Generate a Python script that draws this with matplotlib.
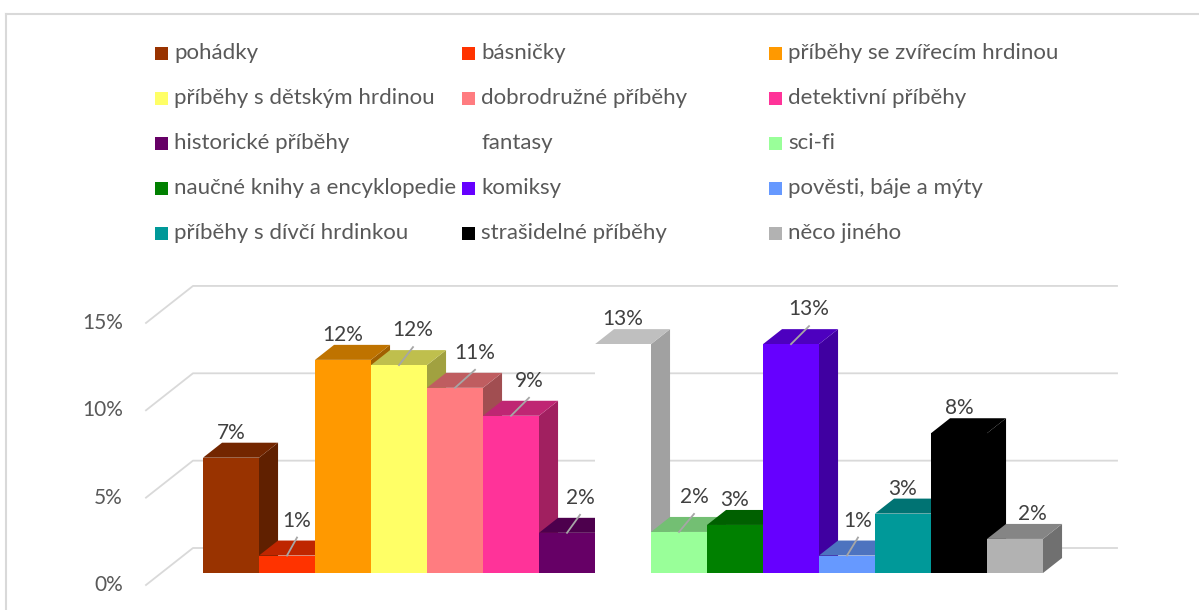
import matplotlib.pyplot as plt
from matplotlib.colors import to_rgb
from matplotlib.lines import Line2D
from matplotlib.patches import Polygon, Rectangle

plt.rcParams['font.family'] = ['Lato', 'DejaVu Sans']

categories = ['pohádky', 'básničky', 'příběhy se zvířecím hrdinou',
              'příběhy s dětským hrdinou', 'dobrodružné příběhy', 'detektivní příběhy',
              'historické příběhy', 'fantasy', 'sci-fi',
              'naučné knihy a encyklopedie', 'komiksy', 'pověsti, báje a mýty',
              'příběhy s dívčí hrdinkou', 'strašidelné příběhy', 'něco jiného']
values = [6.6, 1.0, 12.2, 11.9, 10.6, 9.0, 2.3, 13.1, 2.35, 2.75, 13.1, 1.0, 3.4, 8.0, 1.95]
colors = ['#993300', '#FF3300', '#FF9900', '#FFFF66', '#FF7C80', '#FF3399', '#660066',
          '#FFFFFF', '#99FF99', '#008000', '#6600FF', '#6699FF', '#009999', '#000000',
          '#B2B2B2']
yticks = [0, 5, 10, 15]

# label placement (style): leader line or not, x nudge in px
leader = [False, True, False, True, True, True, True, False, True, False, True, True,
          False, False, False]
label_dx = [0, 10, 0, 14, 20, 18, 13, 0, 15, 0, 18, 11, 0, 0, 17]

W, H = 1199, 610
CAT_PX, PCT_PX = 56.0, 17.47   # pixels per category / per percent
X0, Y0 = 203, 573              # first bar front-left, bar base (pixels)
SLOPE = 1.27                   # oblique depth direction dx/dy
BAR_D, WALL_D, FRONT_D = 15, 25, -12

fig = plt.figure(figsize=(W / 100, H / 100), dpi=100)
ax = fig.add_axes([0, 0, 1, 1])
ax.set_xlim(-X0 / CAT_PX, (W - X0) / CAT_PX)
ax.set_ylim((Y0 - H) / PCT_PX, Y0 / PCT_PX)
ax.axis('off')


def depth(x, y, d):
    return x + d * SLOPE / CAT_PX, y + d / PCT_PX


def shade(c, f):
    return tuple(f * v for v in to_rgb(c))


# walls / gridlines
xl, xr = -0.746, 15.755
grid_c = '#D9D9D9'
for v in yticks:
    p0 = depth(xl, v, FRONT_D)
    p1 = depth(xl, v, WALL_D)
    p2 = depth(xr, v, WALL_D)
    ax.add_line(Line2D([p0[0], p1[0], p2[0]], [p0[1], p1[1], p2[1]], color=grid_c,
                       lw=1.3, zorder=1))
    ax.text(p0[0] - 23 / CAT_PX, p0[1], f'{v}%', ha='right', va='center',
            fontsize=15, color='#595959')

# bars, left to right so right-hand bars cover the sides of earlier ones
for i, (v, c) in enumerate(zip(values, colors)):
    z = 3 + 3 * i
    side = [(i + 1, 0), (i + 1, v), depth(i + 1, v, BAR_D), depth(i + 1, 0, BAR_D)]
    top = [(i, v), (i + 1, v), depth(i + 1, v, BAR_D), depth(i, v, BAR_D)]
    ax.add_patch(Polygon(side, closed=True, fc=shade(c, 0.63), ec='none', zorder=z))
    ax.add_patch(Polygon(top, closed=True, fc=shade(c, 0.75), ec='none', zorder=z + 1))
    ax.bar(i, v, width=1, align='edge', color=c, edgecolor='none', zorder=z + 2)

# value labels
for i, v in enumerate(values):
    cx = i + 0.5
    lx = cx + label_dx[i] / CAT_PX
    if leader[i]:
        ax.plot([cx, lx], [v, v + 18 / PCT_PX], color='#A6A6A6', lw=1.3, zorder=60)
        ly = v + 35 / PCT_PX
    else:
        ly = v + 25 / PCT_PX
    ax.text(lx, ly, f'{round(v)}%', ha='center', va='center', fontsize=15,
            color='#404040', zorder=61)

# legend
col_x = [155, 462, 769]
for k, name in enumerate(categories):
    r, cidx = divmod(k, 3)
    x, y = col_x[cidx], 53 + 45 * r
    fig.patches.append(Rectangle((x / W, 1 - (y + 6.5) / H), 13 / W, 13 / H,
                                 transform=fig.transFigure, fc=colors[k], ec='none'))
    fig.text((x + 19) / W, 1 - y / H, name, ha='left', va='center', fontsize=16,
             color='#595959')

# chart frame
fig.add_artist(Line2D([6 / W, 1], [1 - 14 / H, 1 - 14 / H], transform=fig.transFigure,
                      color='#D9D9D9', lw=1.5))
fig.add_artist(Line2D([6 / W, 6 / W], [0, 1 - 14 / H], transform=fig.transFigure,
                      color='#D9D9D9', lw=1.5))

fig.savefig('out.png', dpi=100)
